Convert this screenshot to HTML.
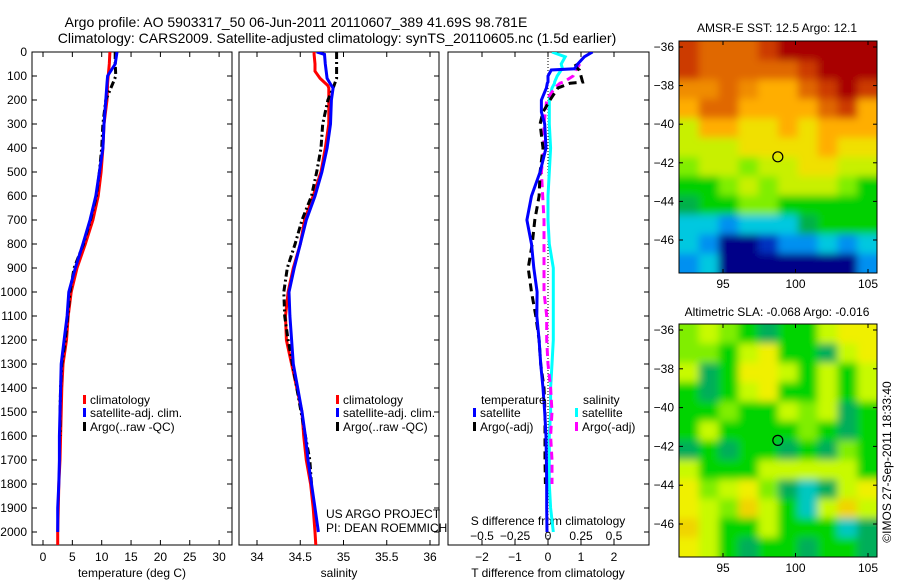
<!DOCTYPE html>
<html><head><meta charset="utf-8">
<style>
html,body{margin:0;padding:0;background:#fff;}
svg{display:block;font-family:"Liberation Sans",sans-serif;}
text{fill:#000;}
</style></head>
<body>
<svg id="fig" width="900" height="580" viewBox="0 0 900 580" xmlns="http://www.w3.org/2000/svg">
<defs>
<filter id="soft" x="0" y="0" width="1" height="1"><feGaussianBlur stdDeviation="4"/></filter>
<clipPath id="clipSST"><rect x="679" y="41" width="198" height="232"/></clipPath>
<clipPath id="clipSLA"><rect x="679" y="324" width="198" height="233"/></clipPath>
<clipPath id="clipP1"><rect x="32" y="52" width="200" height="493"/></clipPath>
<clipPath id="clipP2"><rect x="239" y="52" width="200" height="493"/></clipPath>
<clipPath id="clipP3"><rect x="448" y="52" width="201" height="493"/></clipPath>
</defs>
<text x="296" y="27" font-size="14" text-anchor="middle">Argo profile: AO 5903317_50 06-Jun-2011 20110607_389 41.69S 98.781E</text>
<text x="337" y="43" font-size="14" text-anchor="middle">Climatology: CARS2009. Satellite-adjusted climatology: synTS_20110605.nc (1.5d earlier)</text>
<text x="777" y="32" font-size="12" text-anchor="middle">AMSR-E SST: 12.5 Argo: 12.1</text>
<text x="777" y="316" font-size="12" text-anchor="middle">Altimetric SLA: -0.068 Argo: -0.016</text>
<text x="0" y="0" font-size="12" text-anchor="middle" transform="translate(891,462) rotate(-90)">©IMOS 27-Sep-2011 18:33:40</text>
<g id="g"></g>
</svg>
<script>
// ---------- profile data ----------
var depthT = [0,50,100,130,200,300,400,500,600,700,800,900,1000,1100,1200,1300,1400,1500,1600,1700,1800,1900,2000,2054];
var tempClim = [11.4,11.3,11.1,11.0,10.9,10.4,10.2,9.9,9.4,8.5,7.2,5.8,4.8,4.3,4.0,3.4,3.2,3.1,3.0,2.9,2.7,2.6,2.5,2.5];
var tempSat  = [12.6,12.3,11.0,10.9,10.7,10.4,10.2,9.6,9.0,8.0,6.8,5.5,4.4,4.1,3.6,3.1,3.0,2.9,2.8,2.8,2.7,2.5,2.5,null];
var tempArgo = [12.3,12.3,12.4,11.9,10.7,10.2,10.0,9.6,9.1,8.1,6.9,5.3,4.6,4.2,3.8,3.2,3.0,2.9,2.9,null,null,null,null,null];
var depthS = [0,10,50,80,110,140,150,200,300,400,500,600,700,800,900,1000,1100,1200,1300,1400,1500,1600,1700,1800,1900,2000,2054];
var salClim = [34.66,34.66,34.67,34.67,34.73,34.82,34.83,34.83,34.83,34.79,34.74,34.65,34.55,34.50,34.42,34.36,34.33,34.34,34.40,34.46,34.52,34.54,34.57,34.62,34.65,34.67,34.68];
var salSat  = [34.69,34.78,34.79,34.80,34.81,34.86,34.88,34.86,34.85,34.81,34.75,34.67,34.57,34.50,34.43,34.37,34.38,34.40,34.42,34.47,34.52,34.56,34.59,34.63,34.67,34.71,null];
var salArgo = [34.92,34.92,34.92,34.92,34.92,34.89,34.88,34.82,34.76,34.74,34.69,34.63,34.52,34.44,34.35,34.31,34.32,34.36,34.41,34.46,34.51,34.56,34.61,34.63,null,null,null];
var depthD = [0,20,50,70,75,100,125,130,150,200,250,300,400,500,600,700,800,900,1000,1100,1200,1300,1400,1500,1600,1700,1800,1900,2000];
var dTSat  = [1.35,1.1,0.9,0.8,0.1,0.0,0.0,-0.02,-0.05,-0.2,-0.2,-0.1,-0.06,-0.24,-0.5,-0.64,-0.5,-0.43,-0.33,-0.34,-0.27,-0.22,-0.15,-0.1,-0.06,-0.05,-0.04,-0.04,-0.03];
var dTArgo = [null,null,0.82,0.9,0.95,1.0,1.05,0.67,0.3,0.06,-0.15,-0.24,-0.15,-0.24,-0.27,-0.4,-0.48,-0.6,-0.5,-0.37,-0.27,-0.22,-0.12,-0.09,-0.09,-0.09,-0.08,null,null];
var dSSat  = [0.03,0.13,0.10,0.11,0.10,0.07,0.05,0.05,0.03,0.01,0.01,0.01,0.02,0.01,0.0,0.0,0.01,0.04,0.04,0.04,0.04,0.03,0.02,0.02,0.01,0.01,0.01,0.02,0.04];
var dSArgo = [null,null,0.24,0.22,0.21,0.19,0.12,0.09,0.05,-0.01,-0.02,-0.03,-0.03,-0.05,-0.04,-0.03,-0.03,-0.03,-0.03,-0.01,-0.01,0.0,0.02,0.03,0.02,0.03,0.03,null,null];
// tick labels
var depthTicks = [0,100,200,300,400,500,600,700,800,900,1000,1100,1200,1300,1400,1500,1600,1700,1800,1900,2000];
var tempTicks = [0,5,10,15,20,25,30];
var salTicks = [34,34.5,35,35.5,36];
var dTTicks = [-2,-1,0,1,2];
var dSTickLabels = ["-0.5","-0.25","0","0.25","0.5"];
var dSTicks = [-0.5,-0.25,0,0.25,0.5];
var lonTicks = [95,100,105];
var latTicks = [-36,-38,-40,-42,-44,-46];
var argoLon = 98.781, argoLat = -41.69;
// map grids (coarse colour codes)
var sstGrid = ["EoooEDDDDD","EoooooEDDD","OOoOAAoEDE","AooAAAAoEA","LAAYYAYAAA","LLLYYYYAYY","lLLlLLYYLL","GGlLlLLLlG","gGGllGGGGG","CCBCCCgGGG","CBNNbBBCBC","BCNNNNNNNB"];
var slaGrid = ["lLlGgGGLYY","llGLYGGgLY","LgGYYLGLGL","GgGLYGGLGL","GGlGGLlLgG","GLGGGGlGgG","gGgGGgGglG","LGGGLLLLLG","YlLYlgcgLY","YLlyLGcLyL","yLGGLGGGcg","YLGgGGgGGg"];

// ---------- scales ----------
function yD(d){return 52+d*0.24;}
function xT(t){return 43+5.87*t;}
function xS(s){return 257+86.5*(s-34);}
function xDT(t){return 548+33*t;}
function xDS(s){return 548+132*s;}
function mapX(lon){return 723+(lon-95)*14.5;}
function sstY(lat){return 47+(-36-lat)*19.3;}
function slaY(lat){return 330+(-36-lat)*19.4;}

var NS="http://www.w3.org/2000/svg";
var G=document.getElementById('g');
function mk(tag,attrs,parent){var e=document.createElementNS(NS,tag);for(var k in attrs)e.setAttribute(k,attrs[k]);(parent||G).appendChild(e);return e;}
function txt(s,x,y,size,anchor,parent){var e=mk('text',{x:x,y:y,'font-size':size,'text-anchor':anchor||'start'},parent);e.textContent=s;return e;}

function series(depths,vals,xf,color,dash,width,clip,name){
  var segs=[],cur=[];
  for(var i=0;i<depths.length;i++){
    if(vals[i]===null||vals[i]===undefined){if(cur.length)segs.push(cur);cur=[];continue;}
    cur.push(xf(vals[i]).toFixed(1)+','+yD(depths[i]).toFixed(1));
  }
  if(cur.length)segs.push(cur);
  segs.forEach(function(s){
    var p=mk('polyline',{points:s.join(' '),fill:'none',stroke:color,'stroke-width':width,'clip-path':'url(#'+clip+')','stroke-linejoin':'miter'});
    if(dash)p.setAttribute('stroke-dasharray',dash);
    
    
  });
}

function panel(x0,x1,name){
  var r=mk('rect',{x:x0,y:52,width:x1-x0,height:493,fill:'none',stroke:'#000','stroke-width':1});
  
  
}

// panel frames
panel(32,232,'temperature-panel');
panel(239,439,'salinity-panel');
panel(448,649,'difference-panel');

// depth ticks & labels
depthTicks.forEach(function(d){
  var y=yD(d);
  var l=txt(String(d),27,y+4,12,'end');
  
  
  mk('line',{x1:32,y1:y,x2:37,y2:y,stroke:'#000'});
  mk('line',{x1:227,y1:y,x2:232,y2:y,stroke:'#000'});
  mk('line',{x1:434,y1:y,x2:439,y2:y,stroke:'#000'});
  mk('line',{x1:644,y1:y,x2:649,y2:y,stroke:'#000'});
});
// temperature x ticks
tempTicks.forEach(function(t){
  var x=xT(t);
  mk('line',{x1:x,y1:52,x2:x,y2:57,stroke:'#000'});
  mk('line',{x1:x,y1:540,x2:x,y2:545,stroke:'#000'});
  var l=txt(String(t),x,561,12,'middle');
  
  
});
salTicks.forEach(function(s){
  var x=xS(s);
  mk('line',{x1:x,y1:52,x2:x,y2:57,stroke:'#000'});
  mk('line',{x1:x,y1:540,x2:x,y2:545,stroke:'#000'});
  var l=txt(String(s),x,561,12,'middle');
  
  
});
dTTicks.forEach(function(t){
  var x=xDT(t);
  mk('line',{x1:x,y1:52,x2:x,y2:57,stroke:'#000'});
  mk('line',{x1:x,y1:540,x2:x,y2:545,stroke:'#000'});
  var l=txt(String(t).replace('-','\u2212'),x,561,12,'middle');
  
  
});
dSTicks.forEach(function(s,i){
  var l=txt(dSTickLabels[i].replace('-','\u2212'),xDS(s),540,12,'middle');
  
  
});
var t1=txt('temperature (deg C)',132,577,12,'middle');
var t2=txt('salinity',339,577,12,'middle');
var t3=txt('T difference from climatology',548,577,12,'middle');
var t4=txt('S difference from climatology',548,525,12,'middle');

// zero dotted line
var z=mk('line',{x1:xDT(0),y1:52,x2:xDT(0),y2:545,stroke:'#000','stroke-dasharray':'1,2'});


// series
series(depthT,tempClim,xT,'#ff0000',null,3,'clipP1','temp-climatology-line');
series(depthT,tempArgo,xT,'#000000','7,3,2,3',3,'clipP1','temp-argo-line');
series(depthT,tempSat,xT,'#0000ff',null,3,'clipP1','temp-satellite-line');
series(depthS,salClim,xS,'#ff0000',null,3,'clipP2','sal-climatology-line');
series(depthS,salArgo,xS,'#000000','7,3,2,3',3,'clipP2','sal-argo-line');
series(depthS,salSat,xS,'#0000ff',null,3,'clipP2','sal-satellite-line');
series(depthD,dSSat,xDS,'#00ffff',null,3,'clipP3','s-diff-satellite-line');
series(depthD,dSArgo,xDS,'#ff00ff','8,5',3,'clipP3','s-diff-argo-line');
series(depthD,dTArgo,xDT,'#000000','8,5',3,'clipP3','t-diff-argo-line');
series(depthD,dTSat,xDT,'#0000ff',null,3,'clipP3','t-diff-satellite-line');

// legends
function legend(x,y,color,label,name){
  var gg=mk('g',{});
  
  
  mk('rect',{x:x,y:y-9,width:3,height:9,fill:color},gg);
  txt(label,x+7,y,12,'start',gg);
}
legend(83,404,'#ff0000','climatology','legend-temp-climatology');
legend(83,417,'#0000ff','satellite-adj. clim.','legend-temp-satellite');
legend(83,431,'#000000','Argo(..raw -QC)','legend-temp-argo');
legend(336,404,'#ff0000','climatology','legend-sal-climatology');
legend(336,417,'#0000ff','satellite-adj. clim.','legend-sal-satellite');
legend(336,431,'#000000','Argo(..raw -QC)','legend-sal-argo');
var lt=txt('temperature',481,404,12);
var ls=txt('salinity',583,404,12);
legend(473,417,'#0000ff','satellite','legend-t-diff-satellite');
legend(473,431,'#000000','Argo(-adj)','legend-t-diff-argo');
legend(575,417,'#00ffff','satellite','legend-s-diff-satellite');
legend(575,431,'#ff00ff','Argo(-adj)','legend-s-diff-argo');
var u1=txt('US ARGO PROJECT',326,518,12);
var u2=txt('PI: DEAN ROEMMICH',326,532,12);

// maps
var sstPal={D:'#a80000',E:'#cc3a00',o:'#e06800',O:'#f08c00',A:'#ffae00',Y:'#f0e000',L:'#c8f000',l:'#80ee00',G:'#00d000',g:'#00b048',C:'#00c8e0',B:'#0090f0',b:'#0030c0',N:'#000088'};
var slaPal={G:'#00d400',g:'#00ae5a',c:'#00c8c0',l:'#80ee00',L:'#c8fa00',Y:'#f0f000',y:'#f0d400'};
function drawMap(grid,pal,x0,y0,w,h,clip,name,yf){
  var mg=mk('g',{'clip-path':'url(#'+clip+')'});
  
  
  var inner=mk('g',{filter:'url(#soft)'},mg);
  var rows=grid.length,cols=grid[0].length,cw=w/cols,ch=h/rows;
  mk('rect',{x:x0-10,y:y0-10,width:w+20,height:h+20,fill:pal[grid[0][0]]},inner);
  for(var r=0;r<rows;r++)for(var c=0;c<cols;c++){
    var ex=c==0?-10:0, ey=r==0?-10:0, ew=(c==cols-1?10:0)-ex, eh=(r==rows-1?10:0)-ey;
    mk('rect',{x:x0+c*cw+ex,y:y0+r*ch+ey,width:cw+ew+0.5,height:ch+eh+0.5,fill:pal[grid[r][c]]},inner);
  }
  mk('rect',{x:x0,y:y0,width:w,height:h,fill:'none',stroke:'#000'});
  lonTicks.forEach(function(lo){
    var x=mapX(lo);
    mk('line',{x1:x,y1:y0+h,x2:x,y2:y0+h-4,stroke:'#000'});
    mk('line',{x1:x,y1:y0,x2:x,y2:y0+4,stroke:'#000'});
    var l=txt(String(lo),x,y0+h+15,12,'middle');
    
    
  });
  latTicks.forEach(function(la){
    var y=yf(la);
    mk('line',{x1:x0,y1:y,x2:x0+4,y2:y,stroke:'#000'});
    mk('line',{x1:x0+w,y1:y,x2:x0+w-4,y2:y,stroke:'#000'});
    var l=txt(String(la).replace('-','\u2212'),x0-5,y+4,12,'end');
    
    
  });
  var c=mk('circle',{cx:mapX(argoLon),cy:yf(argoLat),r:5,fill:'none',stroke:'#000','stroke-width':1.2});
  
  
}
drawMap(sstGrid,sstPal,679,41,198,232,'clipSST','sst-map',sstY);
drawMap(slaGrid,slaPal,679,324,198,233,'clipSLA','sla-map',slaY);
</script>
</body></html>
